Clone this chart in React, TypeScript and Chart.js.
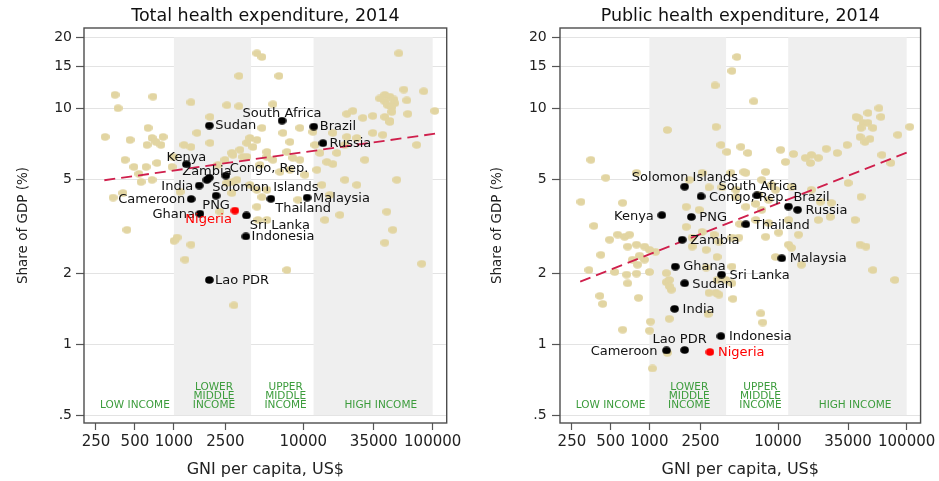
import React, { useEffect, useRef } from 'react';
import { Chart, registerables } from 'chart.js';

Chart.register(...registerables);

const FONT = "'DejaVu Sans', sans-serif";

// ---------- axes ----------
const xTicks = [250, 500, 1000, 2500, 10000, 35000, 100000];
const xTickLabels = ['250', '500', '1000', '2500', '10000', '35000', '100000'];
const yTicks = [0.5, 1, 2, 5, 10, 15, 20];
const yTickLabels = ['.5', '1', '2', '5', '10', '15', '20'];
const xRange = [202, 128300];
const yRange = [0.4626, 21.89];

// ---------- income groups ----------
const shadedBands = [1000, 3950, 12000, 100000]; // pairs: lower-middle, high
const bandYRange = [0.5, 20];
const incomeGroups = [['LOW INCOME'], ['LOWER', 'MIDDLE', 'INCOME'], ['UPPER', 'MIDDLE', 'INCOME'], ['HIGH INCOME']];
const incomeLabelGni = [500, 2040, 7300, 39700];

// ---------- highlighted countries ----------
const countries = ['Sudan', 'South Africa', 'Brazil', 'Russia', 'Kenya', 'Zambia', 'Congo, Rep.', 'India', 'Solomon Islands',
  'Cameroon', 'PNG', 'Thailand', 'Malaysia', 'Ghana', 'Nigeria', 'Sri Lanka', 'Indonesia', 'Lao PDR'];
const countryGni = [1880, 6850, 12050, 14200, 1250, 1800, 2520, 1570, 1880, 1360, 2120, 5620, 10700, 1590, 2960, 3640, 3600, 1880];
const countryTotal = [8.44, 8.86, 8.36, 7.11, 5.79, 4.97, 5.18, 4.70, 5.08, 4.12, 4.26, 4.13, 4.18, 3.57, 3.68, 3.51, 2.86, 1.87];
const countryPublic = [1.81, 4.27, 3.83, 3.71, 3.52, 2.77, 4.23, 1.41, 4.65, 0.94, 3.46, 3.22, 2.31, 2.13, 0.925, 1.97, 1.08, 0.943];

// ---------- other countries: total health expenditure ----------
const otherGniTotal = [4380, 4790, 54680, 3180, 6480, 351, 689, 370, 1355, 2570, 3180, 5825, 1900, 59760, 85280, 42640, 46600, 50030,
  42640, 50930, 44980, 48280, 39010, 63030, 103700, 64180, 48280, 21700, 24150, 28840, 34450, 42640, 46600, 294, 458, 631, 678, 620,
  824, 795, 727, 419, 740, 491, 609, 985, 339, 404, 557, 678, 434, 967, 537, 1057, 1002, 1355, 1218, 1196, 1355, 1507, 1900, 2860,
  3417, 3869, 3667, 3239, 2481, 2191, 2860, 4383, 4082, 5233, 7467, 7878, 6958, 9410, 11860, 5825, 8311, 7878, 6595, 4622, 5233,
  4383, 5233, 7467, 9410, 10285, 9083, 4790, 16920, 21700, 25920, 34450, 41150, 46600, 75290, 13430, 15200, 16920, 18160, 12730,
  20940, 25920, 52760, 42640, 49160, 44170, 82290, 14680, 19160, 16040, 13910, 29880, 20940, 12290, 2911, 2809, 3667, 5233, 2570,
  3070, 3869, 4383, 2809, 4790, 1115, 2270, 4465];
const otherTotal = [17.1, 16.5, 17.1, 13.7, 13.7, 11.4, 11.2, 10.0, 10.6, 10.3, 10.2, 10.4, 9.19, 12.0, 11.8, 11.4, 11.2, 10.9,
  10.7, 10.5, 10.3, 10.1, 11.0, 10.8, 9.74, 9.46, 9.65, 9.46, 9.74, 9.10, 9.28, 9.19, 8.83, 7.56, 7.34, 8.25, 7.48, 6.99,
  7.56, 6.99, 7.2, 6.04, 5.86, 5.64, 5.64, 6.22, 4.18, 4.37, 4.87, 4.97, 3.05, 5.64, 5.27, 2.83, 2.74, 2.64, 2.28, 6.99, 6.85, 7.86, 7.13, 6.34,
  6.22, 7.48, 7.13, 6.66, 6.04, 5.75, 4.87, 7.34, 6.85, 6.53, 6.53, 7.2, 7.86, 8.25, 7.94, 6.04, 6.16, 5.48, 5.37, 5.75, 4.51,
  3.82, 3.36, 2.06, 6.04, 5.22, 4.09, 8.25, 7.86, 7.56, 7.48, 7.86, 7.71, 8.75, 6.99, 6.46, 5.92, 5.80, 6.46, 5.48,
  4.97, 4.73, 4.97, 2.69, 3.05, 3.64, 2.19, 3.36, 3.53, 4.29, 4.73, 6.04, 6.99, 6.99, 1.46, 6.47, 6.22, 6.22, 4.82,
  4.97, 4.73, 4.51, 4.37, 4.20, 4.42, 3.64, 3.36];

// ---------- other countries: public health expenditure ----------
const otherGniPublic = [4790, 4383, 3239, 6478, 40420, 50030, 60840, 63030, 41880, 45780, 50030, 44170, 54680, 43400, 51850, 47440,
  105600, 85280, 34450, 28840, 23710, 20570, 18160, 16330, 17850, 13190, 11440, 10470, 64180, 75290, 1379, 3297, 3604, 4008, 5142,
  5825, 351, 458, 294, 620, 370, 491, 567, 642, 701, 795, 419, 678, 917, 839, 740, 339, 537, 666, 795, 1002, 1355, 678, 412, 1355,
  1481, 2040, 2570, 2911, 4305, 5620, 3667, 4705, 1934, 2152, 2570, 3182, 4383, 3356, 4383, 2760, 3356, 4383, 2911, 8020, 8920,
  7081, 8458, 7467, 6714, 8458, 10100, 12070, 14420, 8020, 9580, 15200, 12070, 18160, 21320, 25920, 20570, 25470, 35060, 44170,
  39710, 43400, 48280, 54680, 80860, 434, 824, 3477, 4462, 1020, 1002, 620, 1429, 2860, 7338, 7605, 1379, 1057, 795, 2437, 1934,
  1115, 2152, 1002, 917, 809, 3477, 2760, 3939, 1429, 1429, 3297, 4962, 12730, 5620, 4705, 6714, 9580, 12730, 7467, 5423, 5051];
const otherPublic = [16.5, 14.4, 12.5, 10.7, 9.19, 9.55, 10.0, 9.19, 9.10, 8.67, 8.67, 8.25, 8.25, 7.56, 7.41, 7.2,
  8.34, 7.71, 6.99, 6.46, 6.73, 6.16, 6.34, 6.16, 5.86, 6.40, 5.92, 6.66, 6.34, 5.86, 8.09, 8.34, 6.99, 6.53, 6.86,
  6.46, 6.04, 5.07, 4.01, 3.97, 3.17, 2.77, 2.91, 2.85, 2.91, 2.64, 2.39, 2.59, 2.59, 2.37, 2.28, 2.06, 2.02, 1.97, 1.99, 2.02, 2.00, 1.81, 1.60, 1.83,
  1.70, 4.97, 5.32, 4.62, 5.32, 5.32, 4.62, 4.51, 3.14, 2.83, 2.99, 2.91, 2.83, 2.34, 2.13, 2.11, 1.87, 1.81, 1.65, 5.37, 4.73,
  4.29, 4.09, 3.71, 3.36, 3.26, 2.97, 3.36, 2.91, 2.85, 2.34, 2.17, 2.64, 4.51, 4.01, 3.97, 3.36, 3.46, 4.82, 4.21,
  3.36, 2.64, 2.59, 2.06, 1.87, 1.48, 1.57, 1.62, 1.555, 1.245, 1.14, 1.15, 1.28, 1.34, 1.35, 1.234, 0.918, 0.788, 5.32, 3.71, 3.82,
  2.46, 2.59, 2.51, 2.28, 2.17, 2.72, 2.51, 1.87, 1.87, 1.76, 1.65, 2.83, 2.56, 3.82, 4.21, 3.93, 4.51, 4.64, 4.97, 5.37, 3.23];

// ---------- fitted lines ----------
const trendGni = [290, 105000];
const trendTotal = [4.95, 7.8];
const trendPublic = [1.84, 6.55];

// ---------- label placement (style) ----------
type LP = [number, number, CanvasTextAlign];
const labelPosTotal: Record<string, LP> = {
  'Sudan': [6, 0.5, 'left'], 'South Africa': [0, -7, 'center'], 'Brazil': [6, 0, 'left'], 'Russia': [6.5, 0.5, 'left'],
  'Kenya': [0, -7, 'center'], 'Zambia': [0, -8.5, 'center'], 'Congo, Rep.': [4, -6.5, 'left'], 'India': [-6, 1, 'right'],
  'Solomon Islands': [3, 10.5, 'left'], 'Cameroon': [-6, 0.7, 'right'], 'PNG': [0, 10.3, 'center'], 'Thailand': [4.3, 9.7, 'left'],
  'Malaysia': [6, 0.6, 'left'], 'Ghana': [-5, 1, 'right'], 'Nigeria': [-3, 9.3, 'right'], 'Sri Lanka': [3.3, 10, 'left'],
  'Indonesia': [5.7, 0.6, 'left'], 'Lao PDR': [5.6, 1, 'left'],
};
const labelPosPublic: Record<string, LP> = {
  'Sudan': [7.5, 1, 'left'], 'South Africa': [1, -9, 'center'], 'Brazil': [5, -9, 'left'], 'Russia': [8, 0.7, 'left'],
  'Kenya': [-8, 1.4, 'right'], 'Zambia': [8, 0.7, 'left'], 'Congo, Rep.': [8, 1, 'left'], 'India': [8, 0.7, 'left'],
  'Solomon Islands': [0.3, -9.4, 'center'], 'Cameroon': [-9, 1, 'right'], 'PNG': [8, 0.3, 'left'], 'Thailand': [8, 1, 'left'],
  'Malaysia': [8, 0.7, 'left'], 'Ghana': [8, 0, 'left'], 'Nigeria': [8, 0.4, 'left'], 'Sri Lanka': [8, 0.7, 'left'],
  'Indonesia': [8, 0.6, 'left'], 'Lao PDR': [-5, -10.3, 'center'],
};

const TAN = '#e2d5a2';
const BAND = '#efefef';
const GREEN = '#3c9c3c';
const TREND = '#cf1f4c';

function sprite(w: number, h: number, rx: number, ry: number, color: string) {
  const c = document.createElement('canvas');
  c.width = w;
  c.height = h;
  const g = c.getContext('2d')!;
  g.fillStyle = color;
  g.beginPath();
  g.ellipse(w / 2, h / 2, rx, ry, 0, 0, Math.PI * 2);
  g.fill();
  return c;
}

type Side = {
  title: string;
  values: number[];
  otherGni: number[];
  otherVals: number[];
  trend: number[];
  yAxisWidth: number;
  padRight: number;
  yTickPad: number;
  yTitlePad: number;
  labelPos: Record<string, LP>;
};

function makeChart(canvas: HTMLCanvasElement, side: Side) {
  const tanDot = sprite(9, 8, 4.5, 3.7, TAN);
  const blackDot = sprite(9, 8, 4.3, 3.8, '#000');
  const redDot = sprite(9, 8, 4.3, 3.8, '#ff0000');

  const bandPlugin = {
    id: 'bands',
    beforeDatasetsDraw(chart: any) {
      const { ctx, scales } = chart;
      const x = scales.x, y = scales.y;
      const top = y.getPixelForValue(bandYRange[1]);
      const bot = y.getPixelForValue(bandYRange[0]);
      ctx.save();
      ctx.fillStyle = BAND;
      for (let i = 0; i < shadedBands.length; i += 2) {
        const l = x.getPixelForValue(shadedBands[i]);
        const r = x.getPixelForValue(shadedBands[i + 1]);
        ctx.fillRect(l, top, r - l, bot - top);
      }
      ctx.fillStyle = GREEN;
      ctx.font = `10.5px ${FONT}`;
      ctx.textAlign = 'center';
      ctx.textBaseline = 'middle';
      incomeGroups.forEach((lines, i) => {
        const cx = x.getPixelForValue(incomeLabelGni[i]);
        lines.forEach((t, j) => {
          const yy = bot - 10 - (lines.length - 1 - j) * 8.7;
          ctx.fillText(t, cx, yy);
        });
      });
      ctx.restore();
    },
  };

  const framePlugin = {
    id: 'frame',
    afterDraw(chart: any) {
      const { ctx, chartArea: a } = chart;
      ctx.save();
      ctx.strokeStyle = '#4d4d4d';
      ctx.lineWidth = 1.4;
      ctx.strokeRect(a.left, a.top, a.right - a.left, a.bottom - a.top);
      ctx.restore();
    },
  };

  const labelPlugin = {
    id: 'countryLabels',
    afterDatasetsDraw(chart: any) {
      const { ctx } = chart;
      const meta = chart.getDatasetMeta(2);
      ctx.save();
      ctx.font = `13px ${FONT}`;
      ctx.textBaseline = 'middle';
      meta.data.forEach((pt: any, i: number) => {
        const name = countries[i];
        const p = side.labelPos[name];
        ctx.fillStyle = name === 'Nigeria' ? '#ff0000' : '#111';
        ctx.textAlign = p[2];
        ctx.fillText(name, pt.x + p[0], pt.y + p[1]);
      });
      ctx.restore();
    },
  };

  return new Chart(canvas, {
    type: 'scatter',
    data: {
      datasets: [
        {
          data: side.otherGni.map((g, i) => ({ x: g, y: side.otherVals[i] })),
          pointStyle: tanDot as any,
          pointRadius: 4,
          order: 3,
        },
        {
          data: trendGni.map((g, i) => ({ x: g, y: side.trend[i] })),
          showLine: true,
          borderColor: TREND,
          borderWidth: 1.8,
          borderDash: [11, 6],
          pointRadius: 0,
          order: 2,
        },
        {
          data: countryGni.map((g, i) => ({ x: g, y: side.values[i] })),
          pointStyle: countries.map((c) => (c === 'Nigeria' ? redDot : blackDot)) as any,
          pointRadius: 4,
          order: 1,
        },
      ],
    },
    options: {
      animation: false,
      responsive: false,
      events: [],
      layout: { padding: { left: 0, right: side.padRight, top: 0, bottom: 0 } },
      plugins: {
        legend: { display: false },
        tooltip: { enabled: false },
        title: {
          display: true,
          text: side.title,
          fullSize: false,
          color: '#111',
          font: { family: FONT, size: 17.5, weight: 'normal' },
          padding: { top: 6, bottom: 1 },
        },
      },
      scales: {
        x: {
          type: 'logarithmic',
          min: xRange[0],
          max: xRange[1],
          afterBuildTicks: (s: any) => {
            s.ticks = xTicks.map((v) => ({ value: v }));
          },
          afterFit: (s: any) => {
            s.height = 58;
          },
          border: { display: false },
          grid: { drawOnChartArea: false, drawTicks: true, tickLength: 7, tickColor: '#555', tickWidth: 1.2 },
          ticks: {
            autoSkip: false,
            maxRotation: 0,
            minRotation: 0,
            padding: 3,
            color: '#222',
            font: { family: FONT, size: 15 },
            callback: (v: any) => xTickLabels[xTicks.indexOf(Number(v))],
          },
          title: {
            display: true,
            text: 'GNI per capita, US$',
            color: '#222',
            font: { family: FONT, size: 16 },
            padding: { top: 0, bottom: 1.4 },
          },
        },
        y: {
          type: 'logarithmic',
          min: yRange[0],
          max: yRange[1],
          afterBuildTicks: (s: any) => {
            s.ticks = yTicks.map((v) => ({ value: v }));
          },
          afterFit: (s: any) => {
            s.width = side.yAxisWidth;
          },
          border: { display: false },
          grid: { color: '#e3e3e3', lineWidth: 1, drawTicks: true, tickLength: 8, tickColor: '#555', tickWidth: 1.2 },
          ticks: {
            padding: side.yTickPad,
            color: '#222',
            font: { family: FONT, size: 14 },
            callback: (v: any) => yTickLabels[yTicks.indexOf(Number(v))],
          },
          title: {
            display: true,
            text: 'Share of GDP (%)',
            color: '#222',
            font: { family: FONT, size: 13.5 },
            padding: { top: side.yTitlePad, bottom: 0 },
          },
        },
      },
    },
    plugins: [bandPlugin, labelPlugin, framePlugin],
  } as any);
}

export default function App() {
  const leftRef = useRef<HTMLCanvasElement>(null);
  const rightRef = useRef<HTMLCanvasElement>(null);

  useEffect(() => {
    const a = makeChart(leftRef.current!, {
      title: 'Total health expenditure, 2014',
      values: countryTotal,
      otherGni: otherGniTotal,
      otherVals: otherTotal,
      trend: trendTotal,
      yAxisWidth: 84,
      padRight: 23.3,
      yTickPad: 4,
      yTitlePad: 15,
      labelPos: labelPosTotal,
    });
    const b = makeChart(rightRef.current!, {
      title: 'Public health expenditure, 2014',
      values: countryPublic,
      otherGni: otherGniPublic,
      otherVals: otherPublic,
      trend: trendPublic,
      yAxisWidth: 90,
      padRight: 16.3,
      yTickPad: 5.3,
      yTitlePad: 19.4,
      labelPos: labelPosPublic,
    });
    return () => {
      a.destroy();
      b.destroy();
    };
  }, []);

  return (
    <div style={{ position: 'fixed', left: 0, top: 0, width: 939, height: 481, background: '#fff' }}>
      <canvas ref={leftRef} width={470} height={481} style={{ position: 'absolute', left: 0, top: 0 }} />
      <canvas ref={rightRef} width={469} height={481} style={{ position: 'absolute', left: 470, top: 0 }} />
    </div>
  );
}
